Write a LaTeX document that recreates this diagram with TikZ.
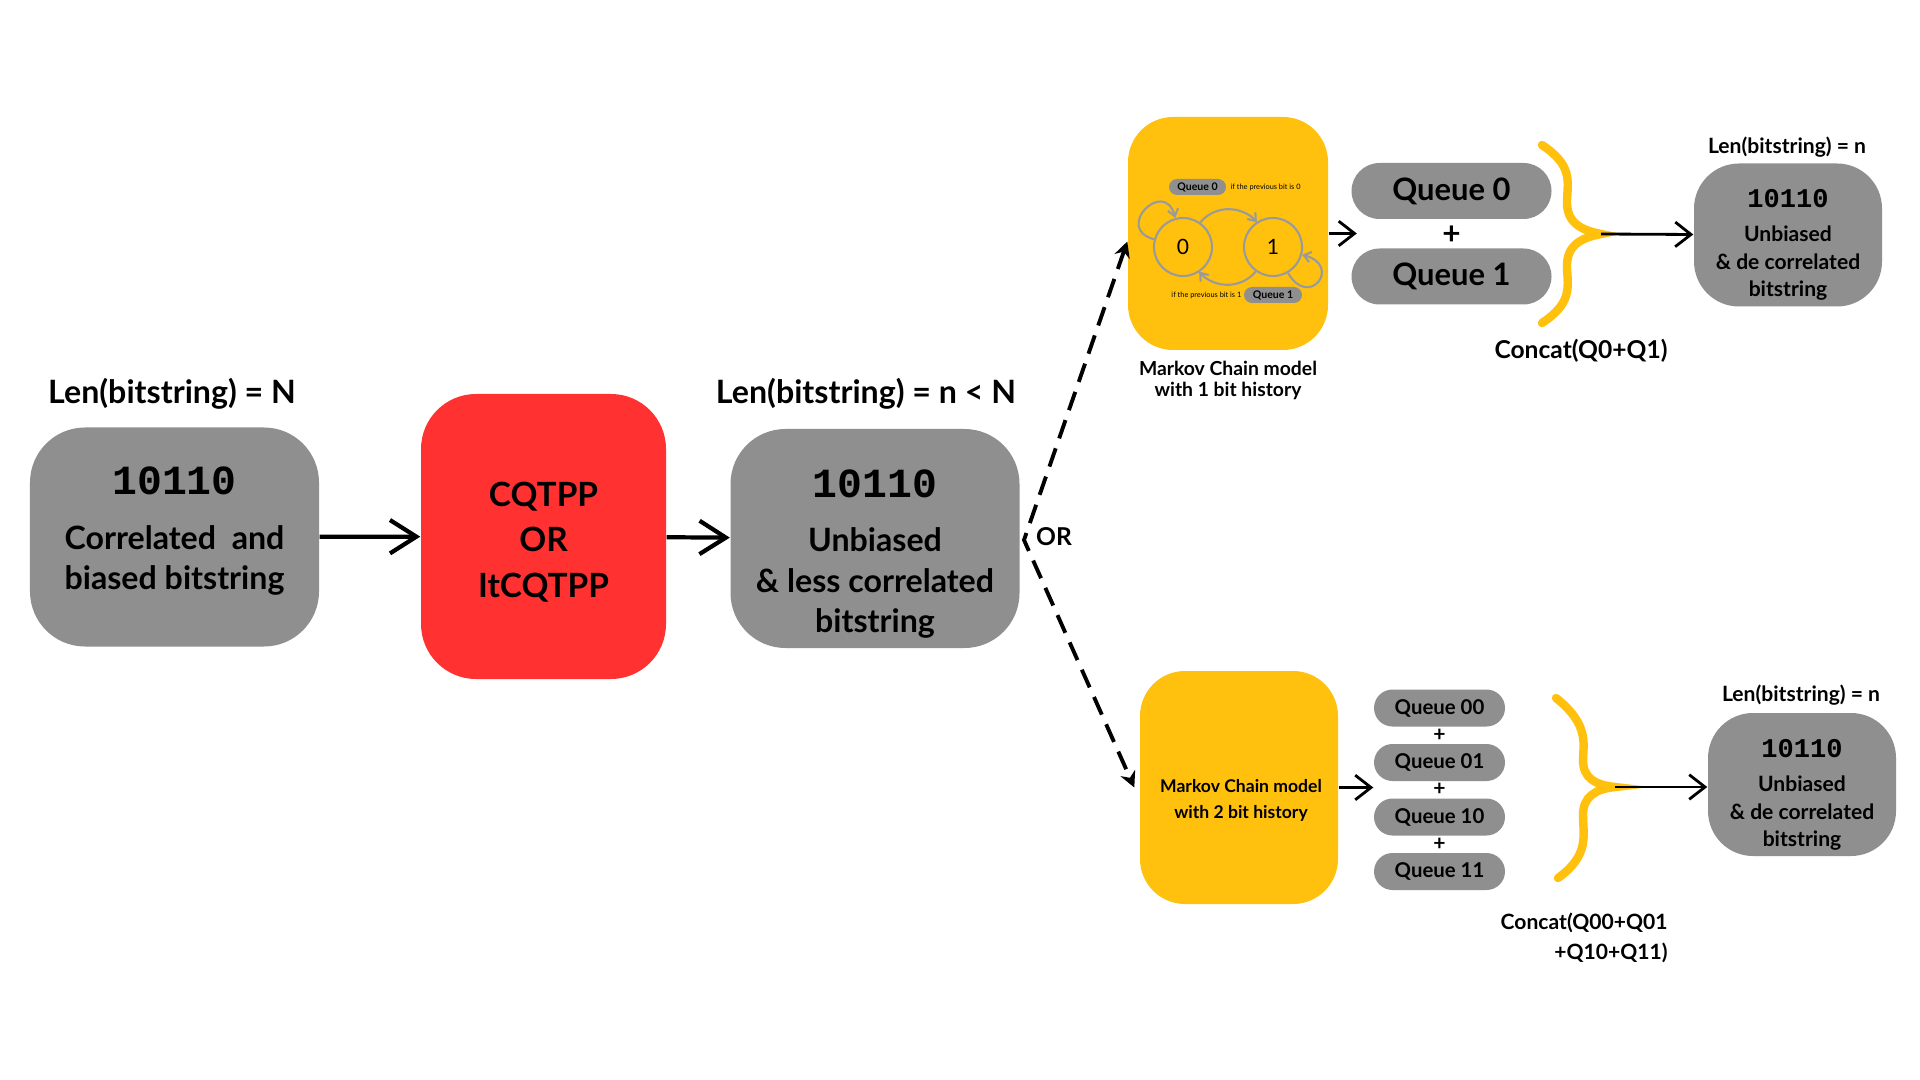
\documentclass[tikz,border=0pt]{standalone}
\usepackage{fontspec}
\setmainfont{Lato}
\newfontfamily\digitfont{Liberation Mono}
\usetikzlibrary{positioning}
\usetikzlibrary{arrows.meta}

\definecolor{boxgrey}{HTML}{8F8F8F}
\definecolor{ppred}{HTML}{FF3131}
\definecolor{mcyellow}{HTML}{FFC10E}
\definecolor{loopgrey}{HTML}{9A9A9A}

\begin{document}
\begin{tikzpicture}[
    greybox/.style={fill=boxgrey, rounded corners=0.55cm, minimum width=2.89cm, minimum height=2.19cm},
    smallbox/.style={fill=boxgrey, rounded corners=0.45cm, minimum width=1.88cm, minimum height=1.43cm},
    mcbox/.style={fill=mcyellow, rounded corners=0.45cm, minimum width=2cm, minimum height=2.33cm},
    pill/.style={fill=boxgrey, rounded corners=#1, inner sep=0pt},
    bigtext/.style={align=center, font=\bfseries\fontsize{9.15}{11.4}\selectfont},
    smalltext/.style={align=center, font=\bfseries\fontsize{6}{7.7}\selectfont},
    mainarrow/.style={line width=1.2pt, -{Straight Barb[length=7.5pt,width=9.5pt]}},
    thinarrow/.style={line width=0.8pt, -{Straight Barb[length=4.5pt,width=7pt]}},
    brace/.style={mcyellow, line width=2.4pt, line cap=round},
    state/.style={circle, draw=loopgrey, line width=0.6pt, minimum size=0.58cm, inner sep=0pt, font=\fontsize{6}{6}\selectfont},
    looparrow/.style={draw=loopgrey, line width=0.6pt, -{Straight Barb[length=2pt,width=3pt]}}
]
    \fill[white] (0,0) rectangle (19.2,-10.8);
    \useasboundingbox (0,0) rectangle (19.2,-10.8);

    \node[bigtext] (lenN) at (1.72,-3.94) {Len(bitstring) = N};
    \node[greybox] (in) at (1.745,-5.37) {};
    \node[bigtext] (intext) at (1.745,-5.31) {{\digitfont\fontsize{11.8}{12}\selectfont 10110}\\[4pt]Correlated\ \ and\\biased bitstring};

    \node[fill=ppred, rounded corners=0.55cm, minimum width=2.45cm, minimum height=2.85cm] (pp) at (5.435,-5.365) {};
    \node[bigtext, font=\bfseries\fontsize{9.5}{13}\selectfont] (pptext) at (5.435,-5.42) {CQTPP\\OR\\ItCQTPP};

    \node[bigtext] (lenn) at (8.66,-3.94) {Len(bitstring) = n < N};
    \node[greybox] (mid) at (8.75,-5.385) {};
    \node[bigtext] (midtext) at (8.75,-5.54) {{\digitfont\fontsize{11.8}{12}\selectfont 10110}\\[4pt]Unbiased\\\& less correlated\\bitstring};

    \draw[mainarrow] (in) -- (pp);
    \draw[mainarrow] (pp) -- (mid);

    \coordinate (orpt) at (10.24,-5.40);
    \node[font=\bfseries\fontsize{7}{7}\selectfont] (ortext) at (10.54,-5.37) {OR};

    \node[mcbox] (mc1) at (12.28,-2.335) {};
    \node[state] (c0) at (11.83,-2.47) {0};
    \node[state] (c1) at (12.73,-2.47) {1};
    \draw[looparrow] (c0) to[out=165,in=105,min distance=0.42cm] (c0);
    \draw[looparrow] (c1) to[out=-60,in=-15,min distance=0.42cm] (c1);
    \draw[looparrow] (c0.55) arc[start angle=140,end angle=40,radius=0.37cm];
    \draw[looparrow] (c1.-125) arc[start angle=-40,end angle=-140,radius=0.37cm];
    \node[pill=0.08cm, minimum width=0.57cm, minimum height=0.16cm, font=\bfseries\fontsize{3}{3}\selectfont] (mq0) at (11.975,-1.87) {Queue 0};
    \node[anchor=west, inner sep=0pt, font=\fontsize{2.1}{2.1}\selectfont] (mq0note) at (12.30,-1.87) {if the previous bit is 0};
    \node[anchor=east, inner sep=0pt, font=\fontsize{2.1}{2.1}\selectfont] (mq1note) at (12.42,-2.95) {if the previous bit is 1};
    \node[pill=0.08cm, minimum width=0.58cm, minimum height=0.16cm, font=\bfseries\fontsize{3}{3}\selectfont] (mq1) at (12.73,-2.95) {Queue 1};
    \node[smalltext, font=\bfseries\fontsize{5.5}{6}\selectfont] (mc1cap) at (12.28,-3.80) {Markov Chain model\\with 1 bit history};

    \node[pill=0.28cm, minimum width=2cm, minimum height=0.56cm, font=\bfseries\fontsize{8.8}{9}\selectfont] (q0) at (14.515,-1.91) {Queue 0};
    \node[pill=0.28cm, minimum width=2cm, minimum height=0.56cm, font=\bfseries\fontsize{8.8}{9}\selectfont] (q1) at (14.515,-2.765) {Queue 1};
    \node[font=\bfseries\fontsize{9}{9}\selectfont] (plus) at (14.515,-2.35) {+};
    \draw[thinarrow] (mc1.east) -- ([xshift=0.06cm]mc1.east -| q0.west);

    \draw[brace] (15.42,-1.45) .. controls (15.72,-1.65) and (15.68,-1.80) .. (15.67,-2.00) .. controls (15.66,-2.22) and (15.80,-2.30) .. (16.01,-2.34) .. controls (15.80,-2.38) and (15.66,-2.46) .. (15.67,-2.68) .. controls (15.68,-2.88) and (15.72,-3.03) .. (15.42,-3.23);
    \coordinate (tip1) at (16.01,-2.34);
    \node[font=\bfseries\fontsize{7}{7}\selectfont] (concat1) at (15.81,-3.51) {Concat(Q0+Q1)};

    \node[smalltext] (len1) at (17.87,-1.47) {Len(bitstring) = n};
    \node[smallbox] (res1) at (17.88,-2.35) {};
    \node[smalltext] (res1text) at (17.88,-2.445) {{\digitfont\fontsize{7.7}{8}\selectfont 10110}\\[2.2pt]Unbiased\\\& de correlated\\bitstring};
    \draw[thinarrow] (tip1) -- (res1);

    \node[mcbox, minimum width=1.98cm] (mc2) at (12.39,-7.875) {};
    \node[smalltext, font=\bfseries\fontsize{5}{7.4}\selectfont] (mc2text) at (12.41,-8.0) {Markov Chain model\\with 2 bit history};
    \foreach \q [count=\n] in {00,01,10,11}
        {\node[pill=0.185cm, minimum width=1.31cm, minimum height=0.37cm, font=\bfseries\fontsize{5.8}{6}\selectfont] (q\q) at (14.395,{-7.08-0.545*(\n-1)}) {Queue \q};}
    \foreach \n in {1,2,3}
        {\node[font=\bfseries\fontsize{6}{6}\selectfont] (plus\n) at (14.395,{-7.35-0.545*(\n-1)}) {+};}
    \draw[thinarrow] (mc2.east) -- (mc2.east -| q00.west);

    \draw[brace] (15.56,-6.98) .. controls (15.90,-7.25) and (15.83,-7.45) .. (15.83,-7.60) .. controls (15.83,-7.78) and (15.95,-7.85) .. (16.15,-7.87) .. controls (15.95,-7.89) and (15.83,-7.97) .. (15.83,-8.15) .. controls (15.83,-8.35) and (15.90,-8.55) .. (15.58,-8.78);
    \coordinate (tip2) at (16.15,-7.87);
    \node[font=\bfseries\fontsize{6}{8.5}\selectfont, align=right, anchor=east] (concat2) at (16.80,-9.38) {Concat(Q00+Q01\\+Q10+Q11)};

    \node[smalltext] (len2) at (18.01,-6.95) {Len(bitstring) = n};
    \node[smallbox] (res2) at (18.02,-7.845) {};
    \node[smalltext] (res2text) at (18.02,-7.945) {{\digitfont\fontsize{7.7}{8}\selectfont 10110}\\[2.2pt]Unbiased\\\& de correlated\\bitstring};
    \draw[thinarrow] (tip2) -- (tip2 -| res2.west);

    \draw[line width=1.1pt, dash pattern=on 5.5pt off 3pt, {Stealth[length=4.5pt,width=4.5pt]}-{Stealth[length=4.5pt,width=4.5pt]}] ([yshift=-0.08cm]mc1.west) -- (orpt) -- ([xshift=-0.05cm]mc2.west);
\end{tikzpicture}
\end{document}
